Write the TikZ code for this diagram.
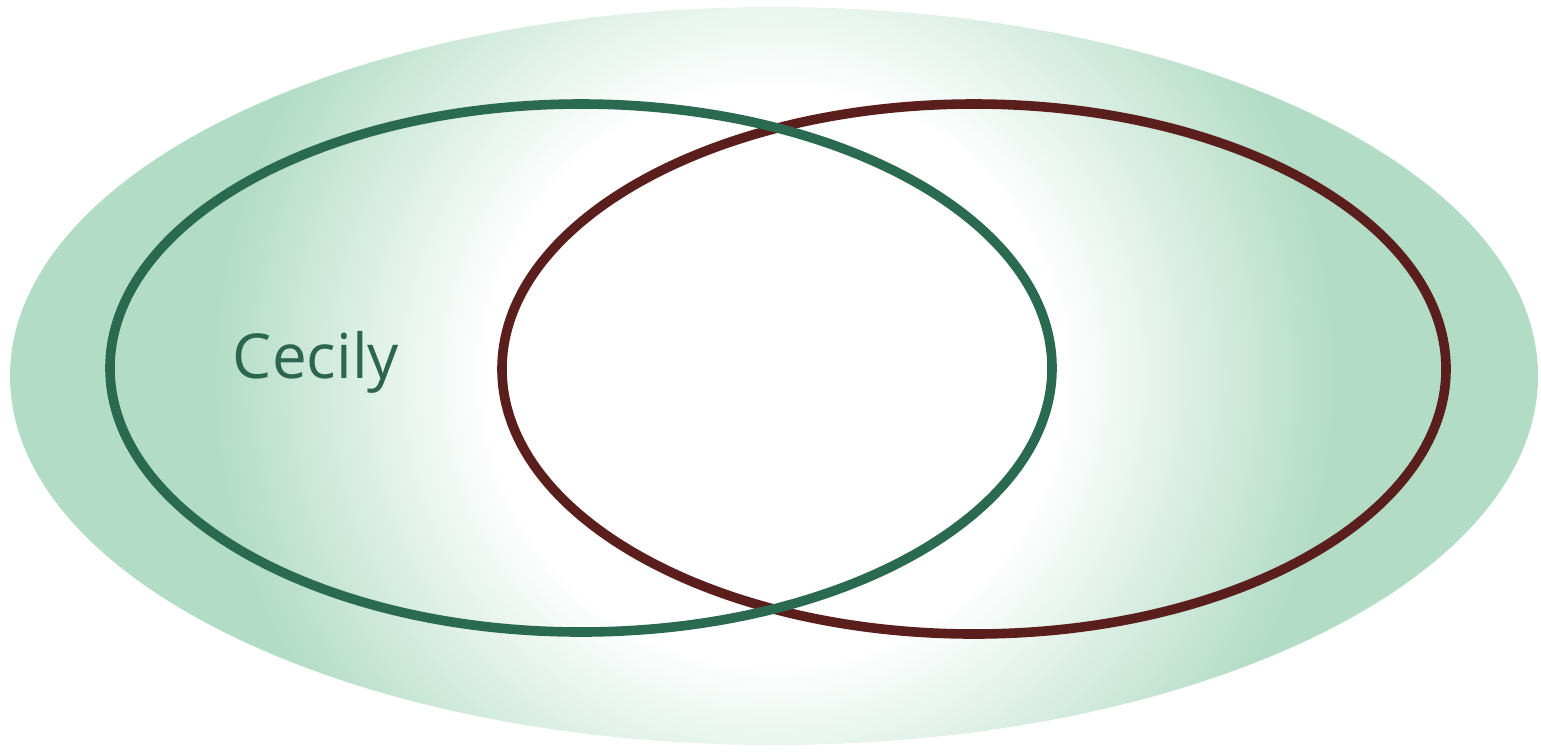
\documentclass[tikz,border=0pt]{standalone}
\usepackage{fontspec}
\setmainfont{Open Sans}
\definecolor{bgg}{HTML}{B3DCC6}
\definecolor{cgreen}{HTML}{2A6A50}
\definecolor{cred}{HTML}{5A1F1C}
\definecolor{tgreen}{HTML}{2C6650}
\pgfdeclareradialshading{bgshade}{\pgfpoint{0bp}{0bp}}{color(0bp)=(white); color(9bp)=(white); color(17.5bp)=(bgg); color(50bp)=(bgg)}
\begin{document}
\begin{tikzpicture}[x=0.5pt,y=-0.5pt,
  ring/.style={line width=4.8pt},
  lbl/.style={font=\fontsize{31}{36}\selectfont, text=tgreen, inner sep=0pt, anchor=base}]
\useasboundingbox (0,0) rectangle (1541,752);
\begin{scope}
  \clip (774,376) ellipse [x radius=764, y radius=369];
  \shade[shading=bgshade] (-26,-424) rectangle (1574,1176);
\end{scope}
\coordinate (cg) at (581,368);
\coordinate (cr) at (974,369);
\draw[ring, cred] (cr) ellipse [x radius=472, y radius=265];
\draw[ring, cgreen] (cg) ellipse [x radius=471, y radius=264];
\node[lbl] (cecily) at (316,378) {Cecily};
\end{tikzpicture}
\end{document}
